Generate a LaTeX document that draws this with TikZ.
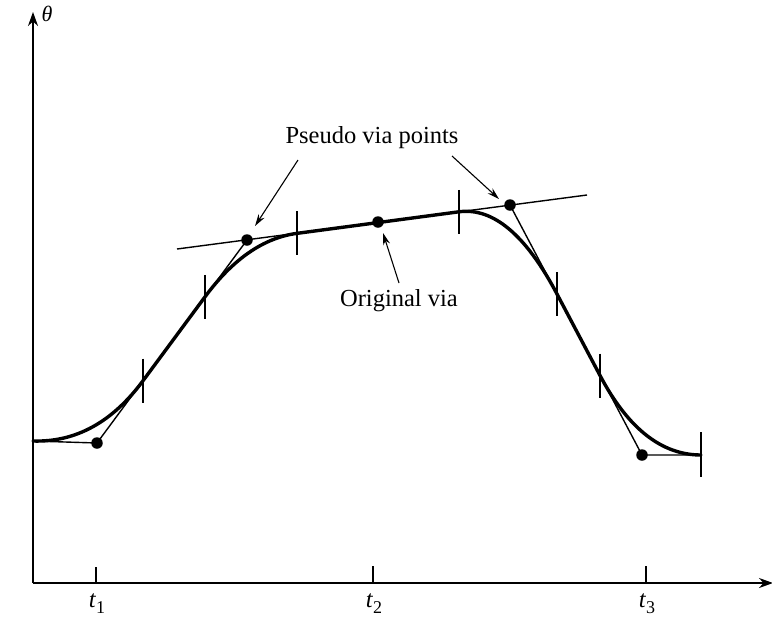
\documentclass[tikz,border=0pt]{standalone}
\usepackage{fontspec}
\setmainfont{Liberation Serif}
\usetikzlibrary{arrows.meta,calc}
\tikzset{
  axis/.style={line width=1.9pt,-{Stealth[length=14pt,width=10pt]}},
  thinline/.style={line width=1.4pt},
  curveline/.style={line width=3.4pt,line cap=round,line join=round},
  tickmark/.style={line width=1.4pt},
  viadot/.style={circle,fill=black,inner sep=0pt,minimum size=11.5pt},
  annot/.style={line width=1.1pt,-{Stealth[length=12pt,width=7pt]}},
  lbl/.style={font=\fontsize{24.5}{28}\selectfont,inner sep=0pt},
}
\newcommand{\tsub}[1]{\textit{t}{\fontsize{18}{18}\selectfont\raisebox{-6.5pt}{#1}}}
\begin{document}
\begin{tikzpicture}[x=1pt,y=-1pt]
\useasboundingbox (0,0) rectangle (772,625);
% axes
\coordinate (O) at (33,583);
\coordinate (ytop) at (33,12);
\coordinate (xend) at (773,583);
\draw[axis] (O) -- (ytop);
\draw[axis] (O) -- (xend);
\node[lbl,font=\fontsize{22}{26}\selectfont] (theta) at (47,14) {\textit{θ}};
% time ticks
\coordinate (t1a) at (96,567); \coordinate (t1b) at (96,583);
\coordinate (t2a) at (373,566); \coordinate (t2b) at (373,583);
\coordinate (t3a) at (646,566); \coordinate (t3b) at (646,583);
\draw[thinline] (t1a) -- (t1b);
\draw[thinline] (t2a) -- (t2b);
\draw[thinline] (t3a) -- (t3b);
\node[lbl,anchor=base] (lt1) at (97,607) {\tsub{1}};
\node[lbl,anchor=base] (lt2) at (374,607) {\tsub{2}};
\node[lbl,anchor=base] (lt3) at (647,607) {\tsub{3}};
% points
\coordinate (s) at (33,441);
\coordinate (d1) at (97,443);
\coordinate (d2) at (247,240);
\coordinate (v) at (378,222);
\coordinate (d3) at (510,205);
\coordinate (d4) at (642,455);
\coordinate (e) at (701,455);
\coordinate (pl) at (177,249);
\coordinate (pr) at (587,195);
% straight segments
\draw[thinline] (s) -- (d1) -- (d2);
\draw[thinline] (pl) -- (pr);
\draw[thinline] (d3) -- (d4) -- (e);
% blend points on lines
\coordinate (c1) at ($(d1)!0.307!(d2)$);
\coordinate (c2) at ($(d1)!0.72!(d2)$);
\coordinate (c3) at ($(d2)!0.19!(d3)$);
\coordinate (c4) at ($(d2)!0.806!(d3)$);
\coordinate (c5) at ($(d3)!0.356!(d4)$);
\coordinate (c6) at ($(d3)!0.682!(d4)$);
% curve (parabolic blends as quadratic Beziers)
\draw[curveline] (s)
  .. controls ($(s)!0.6667!(d1)$) and ($(c1)!0.6667!(d1)$) .. (c1) -- (c2)
  .. controls ($(c2)!0.6667!(d2)$) and ($(c3)!0.6667!(d2)$) .. (c3) -- (c4)
  .. controls ($(c4)!0.6667!(d3)$) and ($(c5)!0.6667!(d3)$) .. (c5) -- (c6)
  .. controls ($(c6)!0.6667!(d4)$) and ($(e)!0.6667!(d4)$) .. (e);
% blend tick marks
\foreach \c/\h in {c1/22,c2/22,c3/22,c4/22,c5/22,c6/22}{
  \draw[tickmark] ($(\c)+(0,-\h)$) -- ($(\c)+(0,\h)$);
}
\coordinate (ea) at (701,432); \coordinate (eb) at (701,477);
\draw[tickmark] (ea) -- (eb);
% dots
\node[viadot] (n1) at (d1) {};
\node[viadot] (n2) at (d2) {};
\node[viadot] (nv) at (v) {};
\node[viadot] (n3) at (d3) {};
\node[viadot] (n4) at (d4) {};
% labels and arrows
\node[lbl,anchor=base] (pseudo) at (372,143) {Pseudo via points};
\node[lbl,anchor=base] (orig) at (399,306) {Original via};
\coordinate (a1s) at (298,160); \coordinate (a1e) at (255,226);
\coordinate (a2s) at (452,156); \coordinate (a2e) at (499,199);
\coordinate (a3s) at (399,283); \coordinate (a3e) at (383,233);
\draw[annot] (a1s) -- (a1e);
\draw[annot] (a2s) -- (a2e);
\draw[annot] (a3s) -- (a3e);
\end{tikzpicture}
\end{document}
